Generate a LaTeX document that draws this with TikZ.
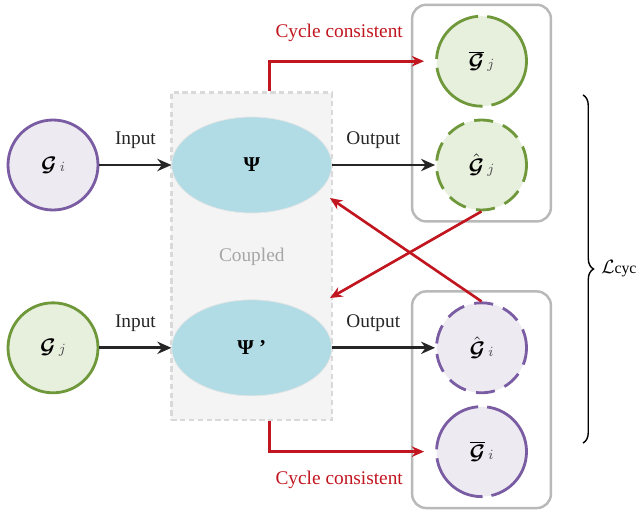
\documentclass[tikz,border=0pt]{standalone}
\usepackage{fontspec}
\usepackage{bm}
\setmainfont{Liberation Serif}
\usetikzlibrary{arrows.meta, positioning, shapes.geometric, fit, backgrounds, decorations.pathreplacing}

\definecolor{purp}{HTML}{7A5CA3}
\definecolor{purpfill}{HTML}{EDEAF2}
\definecolor{grn}{HTML}{6E983A}
\definecolor{grnfill}{HTML}{E7EFDD}
\definecolor{psiblue}{HTML}{B1DCE6}
\definecolor{cycred}{HTML}{C1161F}

\newcommand{\gsym}[2]{{\large$#1{\bm{\mathcal{G}}}$}\,{\footnotesize\color{black!70}$#2$}}

\begin{document}
\begin{tikzpicture}[
        font=\fontsize{11}{13}\selectfont,
        node distance=1.8cm and 1.44cm,
        graphi/.style={circle, draw=purp, fill=purpfill, line width=1.6pt, minimum size=1.8cm, inner sep=0pt},
        graphj/.style={circle, draw=grn, fill=grnfill, line width=1.6pt, minimum size=1.8cm, inner sep=0pt},
        barline/.style={dash pattern=on 1.3cm off 0.18cm},
        hatline/.style={dash pattern=on 0.38cm off 0.21cm},
        net/.style={ellipse, draw=gray!20, fill=psiblue, minimum width=3.2cm, minimum height=1.92cm, font=\fontsize{12}{14}\selectfont\bfseries},
        coupledbox/.style={rectangle, draw=gray!30, fill=gray!9, line width=1.5pt, dash pattern=on 3pt off 2pt, inner xsep=0pt, inner ysep=0.48cm},
        outbox/.style={rectangle, rounded corners=8pt, draw=gray!55, line width=1.4pt, inner xsep=0.46cm, inner ysep=0.2cm},
        flow/.style={-{Stealth[length=8pt, width=7pt]}, line width=1.6pt, black!85},
        cyc/.style={-{Stealth[length=7pt, width=6pt]}, line width=1.5pt, cycred}
    ]
        \useasboundingbox (0,0) rectangle (12.84,-10.24);

        % Input graphs
        \node[graphi] (gi) at (1.06,-3.3) {\gsym{}{i}};
        \node[graphj, below=of gi] (gj) {\gsym{}{j}};

        % Networks
        \node[net, right=of gi] (psi) {Ψ};
        \node[net, right=of gj] (psip) {Ψ ’};

        % Outputs
        \node[graphj, hatline, right=2.06cm of psi] (hatj) {\gsym{\hat}{j}};
        \node[graphj, barline, above=0.22cm of hatj] (barj) {\gsym{\overline}{j}};
        \node[graphi, hatline, right=2.06cm of psip] (hati) {\gsym{\hat}{i}};
        \node[graphi, barline, below=0.22cm of hati] (bari) {\gsym{\overline}{i}};

        \begin{scope}[on background layer]
            \node[coupledbox, fit=(psi)(psip)] (coupled) {};
            \node[outbox, fit=(barj)(hatj)] (boxj) {};
            \node[outbox, fit=(hati)(bari)] (boxi) {};
        \end{scope}
        \node[text=gray!70] (cpl) at (coupled) {Coupled};

        \draw[flow] (gi) -- node[above=5pt] {Input} (psi);
        \draw[flow] (gj) -- node[above=5pt] {Input} (psip);
        \draw[flow] (psi) -- node[above=5pt, pos=0.4] {Output} (hatj);
        \draw[flow] (psip) -- node[above=5pt, pos=0.4] {Output} (hati);

        % Cycle consistency
        \draw[cyc, shorten >=0.22cm] ([xshift=0.36cm]coupled.north) |- node[above=7pt, pos=0.71, text=cycred] {Cycle consistent} (barj.west);
        \draw[cyc, shorten >=0.22cm] ([xshift=0.36cm]coupled.south) |- node[below=7pt, pos=0.71, text=cycred] {Cycle consistent} (bari.west);

        \coordinate (tipi) at (6.6,-3.96);
        \coordinate (tipj) at (6.6,-5.96);
        \draw[cyc] (hatj.south) -- (tipj);
        \draw[cyc] (hati.north) -- (tipi);

        \draw[decorate, decoration={brace, amplitude=6pt}, line width=0.8pt] (11.66,-1.9) -- (11.66,-8.86) node[midway, right=9pt, inner xsep=1pt] (loss) {$\mathcal{L}${\small cyc}};

    \end{tikzpicture}
\end{document}
